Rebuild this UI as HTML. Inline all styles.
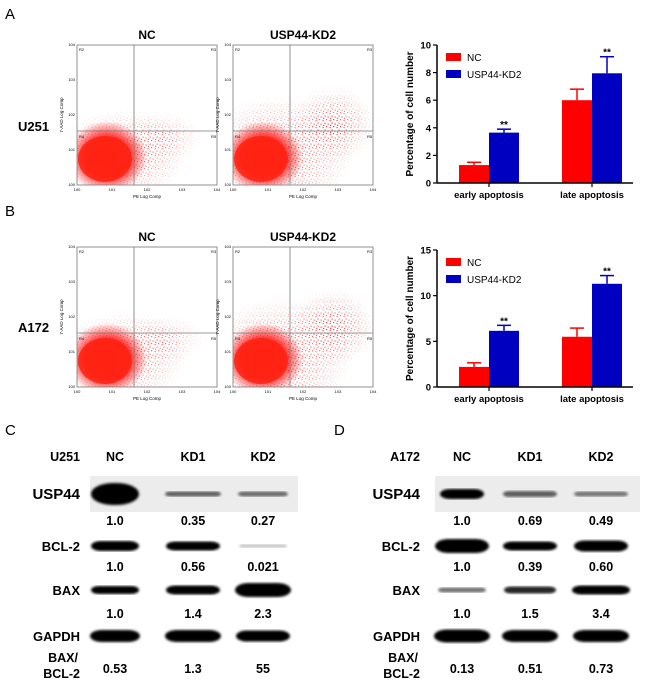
<!DOCTYPE html>
<html><head><meta charset="utf-8">
<style>
body{margin:0;background:#fff;}
#root{position:relative;width:650px;height:686px;overflow:hidden;font-family:"Liberation Sans",Arial,sans-serif;}
.t{position:absolute;white-space:nowrap;}
.b{font-weight:bold;}
</style></head>
<body>
<div id="root">
<svg id="svg" width="650" height="686" viewBox="0 0 650 686" style="position:absolute;left:0;top:0">
<defs>
  <pattern id="dots" width="7" height="7" patternUnits="userSpaceOnUse">
    <rect x="0.5" y="1" width="1.2" height="1.2" fill="#f22"/>
    <rect x="4" y="0" width="1.2" height="1.2" fill="#f22"/>
    <rect x="2.5" y="3.5" width="1.2" height="1.2" fill="#f22"/>
    <rect x="5.5" y="4.5" width="1.2" height="1.2" fill="#f22"/>
    <rect x="1" y="5.8" width="1.2" height="1.2" fill="#f22"/>
  </pattern>
  <radialGradient id="core"><stop offset="0" stop-color="#f22" stop-opacity="1"/><stop offset="0.55" stop-color="#f22" stop-opacity="0.95"/><stop offset="1" stop-color="#f22" stop-opacity="0"/></radialGradient>
  <radialGradient id="spread"><stop offset="0" stop-color="#fff" stop-opacity="1"/><stop offset="1" stop-color="#fff" stop-opacity="0"/></radialGradient>
  <mask id="m1" maskContentUnits="objectBoundingBox"><rect width="1" height="1" fill="url(#spread)"/></mask>
  <filter id="blur"><feGaussianBlur stdDeviation="1.4"/></filter>
</defs>
</svg>
<div class="t" style="left:5px;top:6px;font-size:15px">A</div>
<div class="t" style="left:5px;top:203px;font-size:15px">B</div>
<div class="t" style="left:5px;top:422px;font-size:15px">C</div>
<div class="t" style="left:334px;top:422px;font-size:15px">D</div>
<div class="t b" style="left:18px;top:119px;font-size:13px">U251</div>
<div class="t b" style="left:18px;top:320px;font-size:13px">A172</div>
</div>
<script>
const svg=document.getElementById('svg');
const NS='http://www.w3.org/2000/svg';
function el(tag,attrs,parent){const e=document.createElementNS(NS,tag);for(const k in attrs)e.setAttribute(k,attrs[k]);(parent||svg).appendChild(e);return e;}
function txt(x,y,s,size,anchor,weight,parent){const e=el('text',{x:x,y:y,'font-size':size,'text-anchor':anchor||'start','font-weight':weight||'normal','font-family':'Liberation Sans, Arial, sans-serif',fill:'#000'},parent);e.textContent=s;return e;}
const defs=svg.querySelector('defs');

// ---------- Flow plots ----------
const flowTitles=['NC','USP44-KD2'];
const flowRows=[{y:45,qy:131,name:'u251'},{y:247,qy:333,name:'a172'}];
const flowCols=[77,233];
let cid=0;
flowRows.forEach((r,ri)=>{flowCols.forEach((x0,ci)=>{
  const g=el('g',{});
  
  
  const w=140,h=140,y0=r.y;
  const cp=el('clipPath',{id:'cp'+cid},defs);
  el('rect',{x:x0,y:y0,width:w,height:h},cp);
  txt(x0+w/2,y0-6,flowTitles[ci],12,'middle','bold',g);
  const inner=el('g',{'clip-path':'url(#cp'+cid+')'},g);
  cid++;
  el('ellipse',{cx:x0+45,cy:y0+110,rx:ci?75:65,ry:ci?60:45,fill:'url(#dots)',mask:'url(#m1)'},inner);
  if(ci) el('ellipse',{cx:x0+100,cy:y0+80,rx:42,ry:38,fill:'url(#dots)',mask:'url(#m1)'},inner);
  else el('ellipse',{cx:x0+85,cy:y0+92,rx:42,ry:24,fill:'url(#dots)',mask:'url(#m1)',opacity:0.6},inner);
  el('ellipse',{cx:x0+30,cy:y0+112,rx:40,ry:36,fill:'url(#core)'},inner);
  el('ellipse',{cx:x0+28,cy:y0+114,rx:27,ry:23,fill:'#f21',opacity:0.85},inner);
  el('rect',{x:x0,y:y0,width:w,height:h,fill:'none',stroke:'#777','stroke-width':0.8},g);
  el('line',{x1:x0+57,y1:y0,x2:x0+57,y2:y0+h,stroke:'#777','stroke-width':0.8},g);
  el('line',{x1:x0,y1:r.qy,x2:x0+w,y2:r.qy,stroke:'#777','stroke-width':0.8},g);
  ['R2','R3','R4','R5'].forEach((q,i)=>{
    const qx=i%2?x0+w-6:x0+2, qy=i<2?y0+6:r.qy+7;
    txt(qx,qy,q,4,'start','normal',g);
  });
  for(let i=0;i<5;i++){
    txt(x0+i*35,y0+h+6,'10'+i,4,'middle','normal',g);
    txt(x0-2,y0+h-i*35+1,'10'+i,4,'end','normal',g);
  }
  txt(x0+w/2,y0+h+13,'PE Log Comp',4.5,'middle','normal',g);
  const yt=txt(0,0,'7-AAD Log Comp',4.5,'middle','normal',g);
  yt.setAttribute('transform','translate('+(x0-14)+','+(y0+h/2)+') rotate(-90)');
});});

// ---------- Bar charts ----------
const categories=['early apoptosis','late apoptosis'];
const seriesNames=['NC','USP44-KD2'];
const u251NC=[1.3,6.0];
const u251NCerr=[0.2,0.8];
const u251KD2=[3.65,7.95];
const u251KD2err=[0.25,1.2];
const a172NC=[2.2,5.5];
const a172NCerr=[0.45,0.95];
const a172KD2=[6.15,11.3];
const a172KD2err=[0.6,0.9];
const ticksA=[0,2,4,6,8,10];
const ticksB=[0,5,10,15];
const colors=['#ff0000','#0000c0'];

function barChart(name,top,bottom,ymax,ticks,vals,errs){
  const g=el('g',{});
  
  
  const x0=437,x1=633;
  const ys=v=>bottom-(v/ymax)*(bottom-top);
  const groupX=[459,562], bw=30;
  vals.forEach((sv,si)=>{sv.forEach((v,ci)=>{
    const bx=groupX[ci]+si*bw;
    const r=el('rect',{x:bx,y:ys(v),width:bw,height:bottom-ys(v),fill:colors[si]},g);
    
    
    const e=errs[si][ci], cx=bx+bw/2;
    el('line',{x1:cx,y1:ys(v),x2:cx,y2:ys(v+e),stroke:colors[si],'stroke-width':1.5},g);
    el('line',{x1:cx-7,y1:ys(v+e),x2:cx+7,y2:ys(v+e),stroke:colors[si],'stroke-width':1.5},g);
    if(si==1) txt(cx,ys(v+e)-1,'**',10,'middle','bold',g);
  });});
  el('line',{x1:x0,y1:top,x2:x0,y2:bottom,stroke:'#000','stroke-width':1.5},g);
  el('line',{x1:x0,y1:bottom,x2:x1,y2:bottom,stroke:'#000','stroke-width':1.5},g);
  ticks.forEach(t=>{
    el('line',{x1:x0-4,y1:ys(t),x2:x0,y2:ys(t),stroke:'#000','stroke-width':1.2},g);
    txt(x0-6,ys(t)+3.5,String(t),9.5,'end','bold',g);
  });
  categories.forEach((c,ci)=>{
    const cx=groupX[ci]+bw;
    el('line',{x1:cx,y1:bottom,x2:cx,y2:bottom+4,stroke:'#000','stroke-width':1.2},g);
    txt(cx,bottom+15,c,9.5,'middle','bold',g);
  });
  const yl=txt(0,0,'Percentage of cell number',10,'middle','bold',g);
  yl.setAttribute('transform','translate(413,'+((top+bottom)/2)+') rotate(-90)');
  seriesNames.forEach((s,si)=>{
    el('rect',{x:446,y:top+8+si*17,width:15,height:8,fill:colors[si]},g);
    txt(467,top+16+si*17,s,10,'start','normal',g);
  });
}
barChart('u251',45,183,10,ticksA,[u251NC,u251KD2],[u251NCerr,u251KD2err]);
barChart('a172',250,387,15,ticksB,[a172NC,a172KD2],[a172NCerr,a172KD2err]);

// ---------- Western blots ----------
const blots=[
 {name:'u251',cell:'U251',lx:80,cols:[115,193,263],bandX:90,bandW:208,
  usp:['1.0','0.35','0.27'],bcl:['1.0','0.56','0.021'],bax:['1.0','1.4','2.3'],ratio:['0.53','1.3','55'],
  bands:[[[22,1,48],[5,0.6,56],[5,0.55,50]],[[10,1,48],[9,1,54],[3,0.25,48]],[[8,1,48],[9,1,54],[14,1,56]],[[12,1,50],[12,1,56],[11,1,54]]]},
 {name:'a172',cell:'A172',lx:420,cols:[462,530,601],bandX:435,bandW:205,
  usp:['1.0','0.69','0.49'],bcl:['1.0','0.39','0.60'],bax:['1.0','1.5','3.4'],ratio:['0.13','0.51','0.73'],
  bands:[[[10,1,44],[6,0.6,54],[5,0.5,54]],[[14,1,54],[9,1,54],[11,1,54]],[[5,0.55,48],[7,0.85,52],[9,1,58]],[[13,1,56],[12,1,56],[12,1,56]]]}
];
const rowY=[494,546,590,636];
const rowNames=['USP44','BCL-2','BAX','GAPDH'];
blots.forEach(b=>{
  const g=el('g',{});
  
  
  txt(b.lx,461,b.cell,12.5,'end','bold',g);
  ['NC','KD1','KD2'].forEach((c,i)=>txt(b.cols[i],461,c,12.5,'middle','bold',g));
  el('rect',{x:b.bandX,y:476,width:b.bandW,height:36,fill:'#ececec'},g);
  rowNames.forEach((rn,ri)=>{
    txt(b.lx,rowY[ri]+5,rn,ri==0?15:13,'end','bold',g);
    b.bands[ri].forEach((bd,ci)=>{
      const e=el('rect',{x:b.cols[ci]-bd[2]/2,y:rowY[ri]-bd[0]/2,width:bd[2],height:bd[0],rx:Math.min(bd[2]/2,bd[0]),ry:bd[0]/2,fill:'#000',opacity:bd[1],filter:'url(#blur)'},g);
      
      
    });
  });
  [b.usp,b.bcl,b.bax].forEach((arr,ai)=>{
    const yy=[525,571,618][ai];
    arr.forEach((v,i)=>txt(b.cols[i],yy,v,12.5,'middle','bold',g));
  });
  txt(b.lx-2,662,'BAX/',12.5,'end','bold',g);
  txt(b.lx,678,'BCL-2',12.5,'end','bold',g);
  b.ratio.forEach((v,i)=>txt(b.cols[i],673,v,12.5,'middle','bold',g));
});
</script>
</body></html>
